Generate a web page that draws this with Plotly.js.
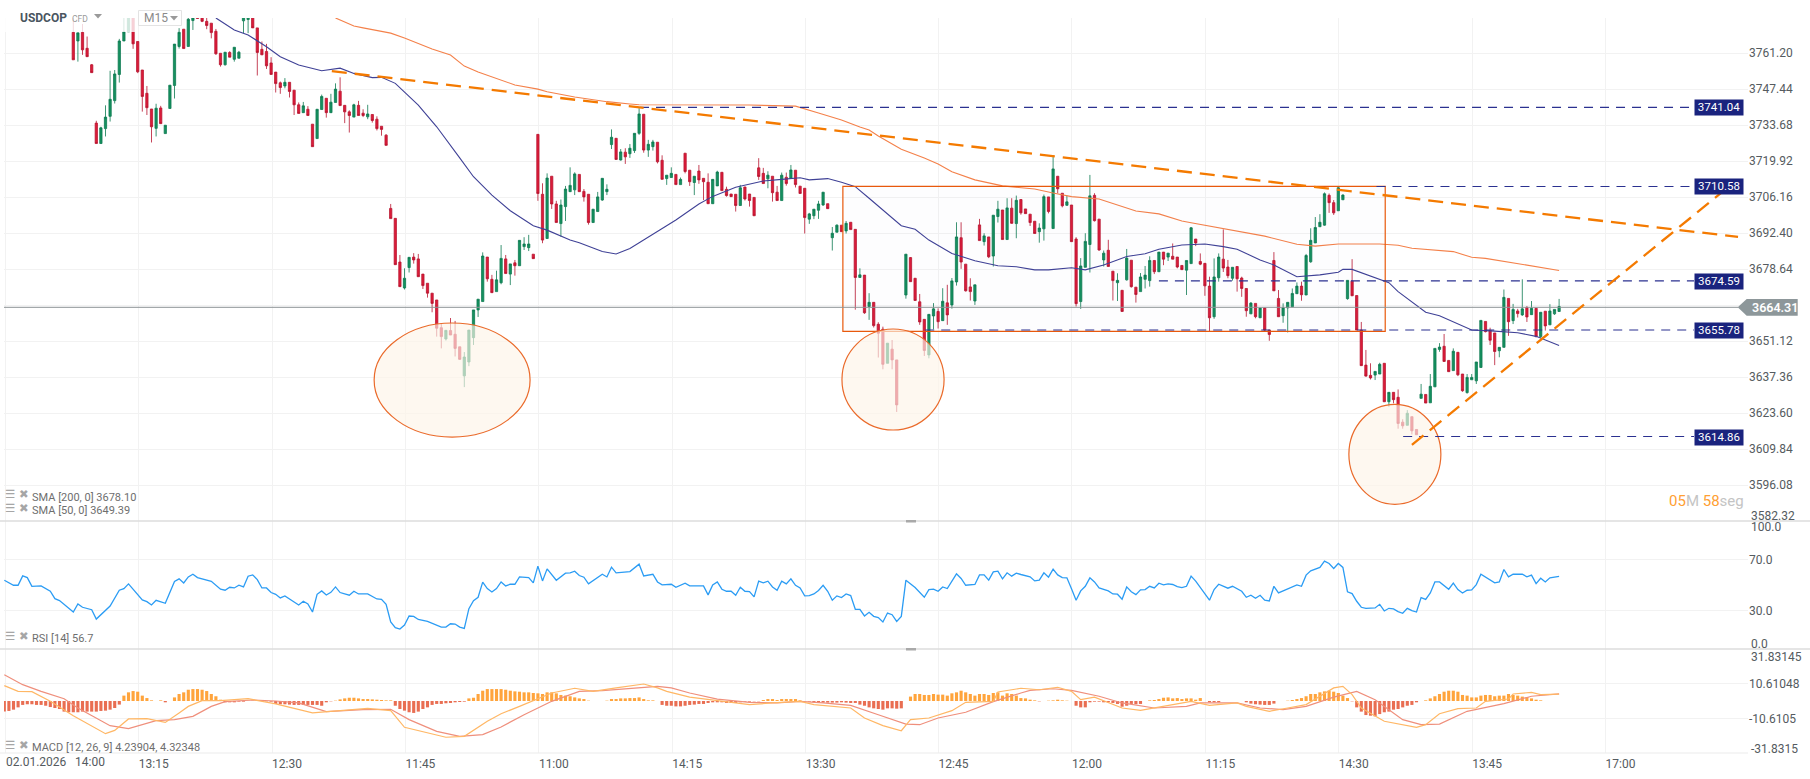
<!DOCTYPE html>
<html><head><meta charset="utf-8">
<script src="https://cdn.plot.ly/plotly-3.0.1.min.js"></script>
<style>html,body{margin:0;padding:0;background:#fff}#c{width:1810px;height:779px}</style>
</head><body><div id="c"></div>
<script>
const firstBar = 15;
const open = [
3769.1,3765.8,3769.1,3763.0,3756.7,3734.4,3726.6,3732.3,3737.0,3743.0,
3753.0,3765.8,3769.3,3777,3765.6,3754.7,3745.8,3739.8,3732.4,3740.2,
3730.4,3740.0,3748.8,3763.7,3770.3,3763.7,3773.6,3775,3776,3773.3,
3772.6,3769.5,3761.1,3756.7,3761.4,3758.8,3759.2,3773.5,3774,3776,
3770.8,3762.6,3761.8,3757.4,3753.9,3749.8,3748.6,3750.0,3747.0,3741.4,
3738.4,3739.7,3734.0,3728.5,3739.6,3743.9,3738.4,3742.3,3746.6,3741.2,
3738.7,3736.7,3741.2,3738.2,3736.8,3737.7,3735.9,3733.2,3729.8,3701.8,
3698.0,3681.3,3671.4,3679.2,3683.2,3682.5,3676.7,3673.2,3669.4,3666.8,
3656.2,3651.9,3655.1,3653.7,3648.9,3637.8,3643.1,3652.4,3663.0,3666.2,
3683.2,3674.7,3670.0,3673.4,3682.5,3676.7,3681.0,3679.9,3687.2,3686.8,
3684.3,3730.1,3707.2,3690.3,3714.1,3703.5,3696.0,3702.5,3708.2,3708.9,
3714.8,3708.3,3707.2,3696.4,3700.6,3705.0,3708.2,3726.2,3728.6,3720.3,
3723.3,3722.7,3723.9,3730.5,3737.8,3724.1,3725.4,3727.1,3720.2,3713.2,
3713.6,3714.8,3710.9,3722.9,3716.4,3711.7,3716.1,3713.3,3711.8,3703.6,
3710.4,3715.6,3709.1,3707.3,3707.2,3702.9,3710.0,3707.3,3706.0,3717.3,
3715.2,3713.1,3714.1,3708.0,3704.8,3713.7,3713.3,3716.4,3710.3,3709.5,
3697.7,3699.0,3701.1,3703.1,3703.6,3690.6,3692.7,3695.4,3693.2,3696.5,
3693.8,3675.4,3676.3,3664.3,3665.9,3657.5,3655.6,3642.6,3648.0,3643.9,
null,3668.7,3683.0,3675.1,3666.1,3659.4,3645.8,3660.7,3662.4,3658.9,
3665.7,3664.9,3673.7,3690.6,3680.5,3671.8,3666.4,3695.5,3689.1,3690.9,
3683.6,3698.7,3701.2,3689.9,3701.9,3696.0,3705.2,3701.6,3699.6,3696.9,
3692.9,3694.0,3706.2,3694.1,3714.1,3707.6,3703.0,3703.1,3690.1,3666.2,
3679.3,3688.0,3706.8,3697.7,3682.1,3685.8,3677.8,3673.4,3670.5,3674.5,
3682.0,3671.7,3670.0,3674.7,3674.2,3681.9,3677.6,3685.1,3683.2,3683.5,
3683.2,3680.0,3678.2,3680.7,3690.1,3681.5,3680.8,3672.1,3660.4,3675.3,
3682.4,3679.4,3675.1,3679.6,3675.2,3671.2,3661.5,3665.5,3660.0,3663.7,
3655.3,3681.9,3667.4,3660.8,3663.8,3664.2,3669.2,3672.1,3668.7,3681.4,
3688.6,3694.8,3695.4,3706.8,3704.0,3700.9,3705.1,3667.3,3674.0,3668.5,
3655.3,3641.9,3638.0,3638.1,3638.5,3642.6,3627.9,3631.5,3629.6,3620.1,
3618.9,3622.2,3617.3,3629.2,3630.7,3627.5,3633.6,3647.9,3649.1,3643.7,
3639.8,3646.8,3638.5,3631.4,3636.3,3635.9,3641.0,3658.6,3655.2,3654.2,
3647.4,3648.7,3667.4,3658.9,3662.6,3661.1,3663.9,3661.2,3663.6,3652.8,
3662.5,3657.3,3661.5,3662.4];
const high = [
3774.5,3768.9,3772.3,3767.5,3757.0,3735.3,3733.0,3741.2,3754.4,3754.7,
3766.6,3776,3778,3778,3765.6,3754.7,3748.6,3739.8,3741.8,3741.0,
3733.6,3748.9,3764.6,3770.7,3770.3,3775.0,3776,3775.5,3776,3776,
3772.6,3770.4,3761.1,3761.5,3761.9,3763.4,3762.0,3777,3778,3777,
3770.8,3765.6,3764.7,3759.6,3753.9,3750.3,3751.6,3750.0,3747.0,3742.3,
3742.5,3740.9,3734.0,3739.7,3745.3,3743.9,3745.6,3749.6,3751.9,3741.2,
3739.3,3741.8,3742.9,3739.7,3741.4,3737.7,3737.0,3733.2,3730.2,3703.5,
3698.0,3684.0,3678.9,3683.1,3684.7,3684.4,3676.7,3673.2,3669.4,3666.8,
3657.9,3655.2,3659.9,3658.8,3648.9,3646.9,3655.3,3663.0,3667.1,3685.0,
3683.2,3676.4,3678.0,3687.8,3684.0,3680.6,3682.1,3689.6,3690.8,3691.7,
3684.3,3730.1,3711.4,3715.2,3714.1,3704.7,3705.2,3710.4,3717.5,3715.6,
3714.8,3709.2,3707.2,3701.5,3708.1,3713.3,3711.0,3732.0,3728.6,3724.5,
3724.8,3726.4,3730.5,3740.1,3737.8,3728.0,3728.0,3727.1,3722.1,3714.5,
3717.5,3714.8,3713.6,3722.9,3716.4,3714.1,3718.4,3713.3,3715.2,3712.9,
3716.2,3715.6,3710.1,3707.3,3707.2,3710.8,3710.0,3707.3,3706.0,3721.0,
3717.3,3716.0,3714.1,3710.4,3715.5,3715.5,3718.4,3716.4,3710.3,3709.5,
3700.1,3701.5,3704.7,3708.0,3703.6,3694.7,3695.7,3695.4,3697.0,3696.5,
3693.8,3678.9,3676.3,3669.4,3665.9,3658.3,3656.6,3650.3,3651.5,3643.9,
null,3684.3,3683.2,3675.1,3669.1,3659.4,3661.3,3665.6,3663.6,3671.3,
3672.6,3675.2,3696.5,3696.5,3680.5,3675.1,3672.6,3697.8,3692.3,3690.9,
3699.2,3704.7,3701.2,3705.7,3705.7,3706.7,3705.2,3701.6,3699.6,3696.9,
3696.1,3707.1,3706.2,3722.0,3714.1,3707.6,3706.7,3703.1,3690.8,3682.8,
3692.3,3714.6,3707.6,3697.7,3685.7,3689.8,3677.8,3677.0,3670.5,3686.3,
3682.0,3671.7,3677.1,3679.8,3683.5,3681.9,3685.1,3685.1,3684.7,3688.4,
3683.2,3680.0,3681.9,3694.7,3690.1,3684.6,3680.8,3675.7,3682.7,3684.6,
3693.8,3682.1,3679.3,3679.6,3675.7,3671.2,3666.0,3665.5,3663.7,3663.7,
3655.3,3685.1,3670.6,3665.5,3665.9,3671.2,3673.5,3673.8,3684.4,3694.2,
3698.5,3699.6,3707.9,3707.5,3705.0,3710.3,3707.2,3674.3,3682.4,3668.5,
3658.4,3647.7,3642.6,3639.5,3642.8,3642.6,3631.5,3631.5,3632.6,3621.2,
3624.7,3622.2,3617.3,3634.7,3630.7,3638.5,3648.3,3650.3,3653.8,3643.7,
3648.3,3646.8,3638.5,3638.5,3638.5,3643.1,3659.0,3658.6,3656.2,3654.2,
3648.7,3670.8,3667.4,3665.3,3663.4,3674.7,3664.5,3666.4,3663.6,3662.1,
3662.5,3665.2,3663.2,3667.2];
const low = [
3758.6,3757.9,3760.5,3759.8,3753.7,3726.6,3726.6,3729.3,3735.0,3741.9,
3749.9,3765.8,3769.3,3762.8,3753.5,3738.8,3737.5,3727.0,3729.3,3734.2,
3730.4,3740.0,3743.8,3762.9,3762.9,3763.7,3770.0,3774.4,3773.0,3770.3,
3766.8,3760.5,3756.0,3756.4,3759.6,3757.9,3759.2,3768.8,3768.8,3770.8,
3752.6,3760.5,3755.1,3753.0,3746.1,3745.6,3747.7,3744.2,3737.5,3738.1,
3738.4,3737.3,3725.4,3728.5,3739.6,3736.5,3738.4,3742.3,3741.1,3734.4,
3730.8,3736.7,3737.3,3736.7,3735.9,3734.6,3731.6,3729.6,3725.9,3697.9,
3680.3,3671.9,3670.8,3677.3,3680.7,3675.7,3671.0,3667.7,3662.1,3652.8,
3648.3,3651.3,3653.4,3645.2,3643.9,3633.5,3641.5,3649.6,3660.3,3666.2,
3673.8,3669.6,3670.0,3672.8,3676.9,3672.5,3676.1,3679.9,3685.9,3685.5,
3682.6,3704.7,3688.5,3690.3,3701.6,3696.4,3691.0,3697.0,3708.2,3706.9,
3708.2,3704.4,3695.6,3696.4,3700.6,3704.7,3706.9,3724.5,3720.5,3720.1,
3718.8,3721.1,3723.0,3729.9,3723.1,3721.5,3723.9,3719.0,3712.9,3710.8,
3713.6,3710.9,3710.9,3715.2,3710.4,3706.9,3711.2,3705.0,3703.6,3703.6,
3710.4,3708.6,3706.3,3706.3,3700.6,3702.9,3704.8,3702.5,3699.0,3712.7,
3711.3,3709.5,3704.4,3704.8,3704.8,3710.5,3713.3,3709.8,3707.5,3692.2,
3695.9,3697.7,3697.8,3702.8,3701.7,3685.7,3692.7,3692.9,3692.2,3693.7,
3663.1,3675.4,3661.5,3659.2,3656.3,3644.8,3640.3,3642.6,3640.3,3624.0,
null,3667.3,3673.8,3666.6,3657.3,3645.4,3644.5,3655.6,3655.9,3658.9,
3657.3,3663.5,3672.3,3678.7,3670.0,3666.6,3664.9,3689.5,3687.6,3682.8,
3679.6,3696.4,3689.9,3689.9,3695.9,3690.4,3699.4,3699.8,3695.1,3692.2,
3688.7,3689.5,3699.9,3694.1,3707.6,3702.2,3702.8,3689.1,3664.3,3663.4,
3679.3,3677.3,3696.8,3685.6,3679.6,3679.6,3666.6,3666.4,3662.4,3674.2,
3671.5,3665.8,3670.0,3671.2,3671.9,3676.7,3677.6,3680.1,3681.7,3682.4,
3678.9,3678.4,3668.7,3680.7,3687.4,3680.1,3668.4,3654.7,3659.6,3673.8,
3677.5,3675.1,3674.2,3670.0,3668.0,3660.4,3661.5,3659.8,3660.0,3654.7,
3651.2,3670.3,3660.4,3658.1,3654.4,3664.2,3669.2,3666.5,3668.7,3681.0,
3688.6,3694.8,3695.2,3700.1,3699.3,3700.9,3705.1,3666.9,3668.4,3655.3,
3641.7,3637.5,3636.4,3636.2,3638.5,3627.9,3626.0,3627.3,3617.6,3617.6,
3618.9,3615.4,3615.3,3629.2,3627.4,3627.5,3633.6,3647.0,3643.3,3639.4,
3639.8,3637.7,3631.7,3631.0,3636.3,3634.7,3641.0,3654.4,3649.6,3641.9,
3644.9,3648.7,3653.1,3657.6,3660.1,3660.7,3658.4,3661.2,3652.5,3652.3,
3655.1,3657.3,3661.1,3662.4];
const close = [
3758.6,3768.9,3762.4,3759.8,3753.7,3726.6,3732.6,3736.7,3743.5,3753.2,
3765.8,3769.3,3776,3764.7,3754.0,3744.6,3740.3,3733.0,3740.1,3734.2,
3733.6,3748.9,3764.6,3769.1,3762.9,3774.1,3775,3774.4,3773.3,3771.7,
3769.0,3760.9,3756.7,3761.5,3759.6,3763.4,3761.5,3776,3776,3770.8,
3761.4,3760.5,3756.3,3753.0,3749.5,3748.0,3750.0,3746.5,3741.4,3738.1,
3741.0,3737.3,3725.4,3739.7,3744.6,3738.4,3742.4,3747.4,3741.1,3738.7,
3737.3,3741.4,3737.3,3737.3,3737.9,3735.4,3732.3,3732.0,3725.9,3697.9,
3680.3,3671.9,3675.1,3683.1,3682.1,3675.7,3672.3,3669.4,3665.5,3656.0,
3652.8,3655.2,3653.4,3648.3,3644.1,3645.0,3655.3,3663.0,3667.1,3683.6,
3674.9,3669.6,3674.5,3682.7,3676.9,3680.6,3679.9,3689.6,3688.2,3688.2,
3682.6,3707.5,3689.7,3713.4,3703.5,3696.4,3703.1,3709.2,3710.6,3715.0,
3708.2,3706.2,3696.4,3701.5,3706.2,3713.3,3709.1,3729.0,3720.5,3723.4,
3721.5,3724.8,3730.5,3737.9,3724.1,3726.3,3727.2,3719.6,3712.9,3714.5,
3715.2,3710.9,3712.9,3715.9,3712.0,3714.1,3712.7,3712.0,3703.6,3712.9,
3715.7,3708.6,3706.7,3706.3,3702.9,3709.7,3705.4,3704.8,3699.0,3714.0,
3711.3,3714.5,3707.8,3704.8,3714.5,3711.3,3716.5,3710.9,3707.5,3698.3,
3699.7,3701.5,3703.5,3708.0,3701.7,3692.3,3695.4,3692.9,3696.1,3693.7,
3675.4,3676.4,3661.9,3665.9,3657.0,3654.1,3642.2,3650.3,3643.9,3626.7,
null,3684.3,3673.8,3666.6,3658.4,3647.5,3661.3,3663.4,3658.5,3666.3,
3661.1,3674.1,3690.9,3681.3,3670.3,3670.0,3672.6,3689.5,3691.3,3683.3,
3699.2,3701.5,3689.9,3702.0,3696.1,3704.9,3700.1,3699.8,3696.4,3692.2,
3694.3,3706.3,3700.6,3716.9,3709.3,3702.8,3704.3,3689.1,3665.4,3679.8,
3689.2,3706.6,3697.1,3685.9,3684.7,3679.6,3674.2,3674.3,3662.4,3682.8,
3671.9,3668.9,3675.6,3676.3,3681.9,3677.6,3685.1,3682.4,3684.7,3682.4,
3679.4,3678.4,3681.9,3694.4,3688.6,3680.5,3672.2,3660.0,3675.6,3683.2,
3679.0,3676.1,3679.3,3674.9,3671.2,3662.7,3665.6,3660.4,3663.7,3655.3,
3653.6,3670.3,3660.4,3663.8,3665.9,3669.3,3672.1,3668.8,3683.8,3689.6,
3694.5,3696.5,3707.4,3704.0,3700.1,3709.7,3706.9,3674.3,3668.4,3655.3,
3641.7,3637.7,3637.0,3639.5,3642.2,3627.9,3631.5,3628.7,3619.6,3618.7,
3623.5,3616.8,3615.3,3630.8,3627.4,3633.8,3648.3,3648.8,3643.3,3639.4,
3647.2,3638.2,3632.1,3637.2,3637.2,3643.1,3659.0,3654.7,3651.4,3647.1,
3648.7,3667.8,3658.5,3663.2,3661.6,3663.4,3660.3,3663.6,3652.8,3662.1,
3656.9,3662.6,3663.2,3664.31];

const sma200Bars = [72,76,78,84,87,93,97,100,103,108,111,116,118,124,131,136,138,162,172,177,182,186,188,190,195,200,203,206,211,217,224,228,232,238,243,246,251,254,256,258,264,269,274,281,285,290,299,303,306,315,319,322,329,334,338];
const sma200 = [3774.6,3771.5,3770.8,3768.8,3766.9,3762.7,3760.4,3756.2,3753.9,3750.9,3749.0,3747.4,3746.4,3744.4,3742.6,3741.7,3741.4,3741.3,3740.9,3738.3,3735.6,3732.9,3731.8,3729.5,3724.4,3721.1,3718.8,3715.8,3712.7,3710.4,3709.2,3707.7,3706.3,3705.4,3702.7,3700.8,3699.7,3698.0,3697.0,3696.3,3694.3,3692.9,3691.2,3688.1,3687.4,3688.2,3688.2,3687.7,3686.6,3685.3,3683.1,3682.7,3680.7,3679.5,3678.1];
const sma50Bars = [46,50,53,55,57,60,64,69,73,76,80,82,85,90,94,99,102,106,110,115,118,123,125,130,133,136,142,146,151,154,159,165,169,173,175,179,182,185,188,193,195,198,201,206,211,216,220,224,227,232,235,239,244,248,251,256,261,265,268,273,276,281,286,290,291,293,297,301,303,309,312,319,324,329,333,338];
const sma50 = [3774.6,3770.0,3768.1,3765.9,3763.6,3759.8,3756.6,3754.4,3755.4,3753.4,3751.8,3751.9,3749.6,3741.3,3733.0,3721.1,3713.9,3706.9,3700.9,3695.2,3693.5,3689.7,3688.7,3685.3,3684.4,3686.5,3692.9,3697.4,3703.5,3706.4,3709.9,3712.3,3712.9,3713.5,3712.7,3713.2,3711.8,3710.1,3705.7,3698.4,3695.2,3693.8,3689.7,3684.6,3681.8,3679.9,3679.5,3678.3,3678.3,3679.1,3678.3,3680.2,3683.4,3684.5,3686.2,3687.8,3688.2,3687.2,3686.2,3682.1,3680.2,3675.7,3676.4,3677.4,3678.5,3678.5,3676.0,3673.4,3670.0,3662.1,3660.8,3655.3,3654.9,3654.3,3652.9,3649.39];

const rsiBars = [0,2,3,4,5,6,8,10,11,12,15,16,17,19,20,23,25,26,27,30,31,32,33,35,37,38,39,40,41,42,45,47,48,49,50,51,52,53,54,55,56,57,58,59,60,61,64,65,66,67,68,69,70,71,72,73,75,76,77,79,81,82,83,84,85,86,87,88,89,90,92,95,96,97,98,99,100,101,102,103,104,105,106,107,108,109,110,111,112,114,115,116,117,118,120,122,123,124,125,126,127,130,131,132,133,136,138,139,141,142,143,145,146,148,149,
151,152,153,154,155,156,157,158,159,160,161,162,163,164,165,166,167,168,169,170,171,172,173,174,175,176,177,178,179,180,181,182,183,184,185,186,187,188,189,190,191,192,193,194,195,196,198,200,201,202,203,204,205,207,208,209,211,212,213,214,215,216,217,218,219,220,221,223,224,225,226,227,228,229,230,231,232,233,234,235,236,237,238,239,240,241,242,243,244,245,246,247,248,249,250,251,252,253,254,255,256,257,258,259,262,263,264,266,267,269,270,271,272,273,274,275,276,277,279,281,282,283,284,286,287,288,289,290,291,292,293,294,295,296,298,299,
300,301,302,303,304,305,306,307,308,309,310,311,312,314,315,316,317,318,319,320,321,324,325,326,327,328,330,331,332,333,334,335,336,338];
const rsi = [53.7,49.8,49.8,57.1,55.8,49.0,49.3,45.1,39.3,37.8,28.9,35.2,32.6,30.7,23.4,33.6,45.9,47.2,50.9,38.3,37.0,34.4,38.0,35.7,52.7,54.8,51.6,56.3,58.4,55.8,52.9,46.7,45.9,48.2,47.7,49.8,48.5,56.9,57.9,54.2,47.7,47.7,44.1,42.7,39.9,41.4,34.4,37.3,35.2,28.9,42.7,45.4,42.2,44.3,48.5,44.1,42.0,45.1,43.0,43.0,39.1,38.8,34.9,21.1,16.6,15.6,18.7,25.8,25.5,23.1,21.6,17.1,17.1,19.7,19.5,17.1,16.1,31.5,37.8,40.4,52.2,47.2,44.6,47.2,52.4,49.3,50.6,50.6,56.3,55.8,51.6,64.7,53.2,62.6,53.7,59.2,59.5,60.8,57.4,56.1,50.9,58.4,56.3,63.9,59.5,60.5,66.3,57.1,58.4,52.4,50.1,50.6,48.2,51.4,49.3,
49.3,49.3,42.3,50.1,52.4,46.7,45.1,45.1,42.0,48.3,45.1,44.9,40.7,53.0,51.7,53.0,48.5,45.9,53.0,50.9,54.8,49.8,47.7,41.5,41.7,43.0,45.7,49.8,45.1,38.1,41.5,40.2,43.0,41.7,31.0,31.0,25.8,28.7,25.5,24.5,21.1,28.1,26.8,21.6,25.5,53.8,48.0,40.4,46.4,46.7,45.1,48.5,47.2,58.7,55.1,49.8,50.4,57.9,57.9,53.8,60.3,60.8,54.8,59.5,56.9,59.2,58.2,56.4,53.2,53.8,59.5,56.1,62.4,57.9,55.8,55.6,47.0,38.1,45.4,49.0,55.6,52.4,47.7,46.7,45.4,43.0,42.8,38.9,48.5,44.7,42.5,46.2,46.4,49.0,47.7,51.4,50.1,50.9,50.4,48.8,47.9,49.0,56.9,53.0,38.1,46.4,50.6,47.5,49.0,45.1,40.4,42.0,39.6,42.0,38.1,37.5,49.0,43.8,46.7,50.1,49.0,57.7,61.1,63.7,68.7,66.8,62.9,66.8,63.7,44.7,43.3,37.3,32.6,31.8,32.1,34.9,
29.7,31.8,31.3,29.2,27.9,31.8,30.0,28.9,40.2,38.8,43.8,52.4,52.4,46.7,51.4,46.4,43.8,45.9,46.2,50.3,58.4,51.7,52.4,62.1,56.4,58.4,58.4,56.4,57.7,51.1,55.3,52.4,55.6,56.7];

const signalBars = [0,4,8,13,16,20,23,27,30,33,37,41,45,48,54,59,64,70,78,84,88,94,99,104,108,113,119,125,130,135,142,145,149,155,162,168,173,178,184,190,196,199,203,209,215,221,223,228,232,238,243,250,257,260,268,273,278,283,289,294,298,304,308,312,318,326,332,338];
const signal = [16.1,10.0,5.9,1.4,-4.3,-10.4,-15.1,-16.9,-14.5,-12.0,-11.4,-9.4,-3.3,-0.4,0.6,0,-1.2,-6.5,-5.3,-5.1,-11.4,-18.6,-21.6,-20.6,-15.9,-8.4,-0.2,5.9,6.3,7.5,9.0,8.0,4.9,1.2,-0.8,-1.2,-0.2,-1.2,-2.7,-8.4,-14.1,-14.5,-10.4,-6.9,-0.4,4.9,6.5,7.5,6.5,2.9,-1.2,-4.3,-3.3,-1.2,-1.2,-4.3,-5.3,-3.3,2.4,5.9,0.8,-11.4,-14.5,-14.1,-6.3,-1.6,2.9,4.32];
const macdBars = [0,3,6,10,15,18,22,24,27,31,35,38,40,43,47,53,59,67,73,79,84,87,96,100,105,108,112,119,124,128,133,139,142,144,149,155,162,167,173,176,184,187,191,195,197,201,206,209,215,216,221,225,229,232,234,237,243,247,250,258,262,268,270,275,279,283,289,291,293,295,300,307,309,312,316,320,322,327,328,332,334,338];
const macd = [9.4,5.9,5.7,-0.2,-9.0,-13.9,-20.0,-18.0,-11.0,-10.8,-13.1,-7.3,-3.3,0.2,0.2,1.4,-1.8,-7.3,-5.7,-4.5,-5.9,-16.1,-22.2,-21.6,-12.4,-7.8,-3.3,4.9,7.8,5.9,8.0,10.4,8.0,5.9,2.4,0.2,-2.2,-1.2,-0.2,-2.2,-4.3,-10.4,-15.1,-18.2,-11.4,-10.4,-5.9,-0.8,-0.2,5.5,7.8,6.9,8.4,5.9,0.8,2.4,-4.3,-5.7,-4.3,-0.2,-2.7,-1.2,-3.3,-6.3,-4.3,-2.2,8.0,9.0,3.9,-4.3,-12.4,-16.1,-14.5,-7.8,-4.7,-4.3,-0.2,1.2,4.3,5.3,3.9,4.24];
const hist = [
-6.5,-6.1,-5.3,-3.9,-2.4,-2.0,-2.0,-2.4,-2.4,-2.9,
-3.7,-4.3,-4.9,-6.5,-6.9,-6.9,-6.9,-6.5,-6.5,-6.5,
-6.5,-6.1,-5.9,-5.3,-4.3,-2.2,3.3,5.3,6.1,5.7,
3.3,1.8,0.4,0,0.4,-0.8,0,2.2,4.3,5.3,
6.9,7.3,7.3,6.9,6.1,4.3,2.9,0.8,-0.8,-0.8,
-0.8,-0.4,-0.4,0.2,0.2,0.2,0.2,-0.2,-0.4,-1.8,
-2.0,-2.0,-2.2,-2.4,-2.4,-2.4,-2.4,-2.4,-2.4,-2.9,
-0.8,-0.2,0.2,1.0,1.6,2.0,2.0,1.6,1.2,1.2,
1.0,0.8,0.6,0.4,0.4,-2.9,-4.9,-5.9,-6.9,-7.3,
-6.5,-4.9,-3.9,-2.4,-1.8,-1.8,-1.4,-1.2,-0.8,-0.6,
-0.4,1.6,2.0,4.3,6.3,7.3,7.3,7.3,7.3,6.9,
6.3,5.9,5.7,5.3,5.3,4.9,4.7,4.3,5.3,5.3,
4.7,3.7,3.3,2.9,2.2,1.6,1.2,0.2,0,0,
0,0.2,1.2,1.2,1.6,1.6,1.8,1.8,2.2,1.2,
0.4,0.4,0,-2.4,-2.9,-2.9,-3.3,-3.3,-2.9,-2.4,
-2.2,-1.8,-1.8,-1.2,-0.8,-0.8,-0.8,-1.2,-1.2,-1.2,
-0.8,-0.4,-0.4,-0.2,-0.2,0.6,1.2,1.2,0.6,1.2,
1.2,1.2,1.2,0.4,0,-0.4,-0.8,-0.8,-1.0,-1.0,
-1.0,-1.0,-0.8,-1.0,-1.2,-1.2,-2.2,-2.9,-3.9,-4.5,
-4.9,-5.3,-4.5,-4.5,-4.7,-4.5,0,2.7,4.3,4.3,
3.7,3.7,4.3,3.9,3.9,3.3,4.7,5.3,6.3,5.3,
4.3,3.3,4.3,4.3,3.7,4.9,5.3,3.3,4.7,4.3,
3.3,1.8,1.6,0.8,0.4,-0.2,0,0.2,0.4,0.8,
0.4,0.2,0,-2.9,-3.9,-3.9,-0.8,-0.4,-0.4,-0.8,
-0.8,-1.2,-1.8,-3.5,-2.9,-1.8,-2.0,-1.8,0,0.4,
0.6,1.2,2.0,2.2,1.6,1.8,1.2,1.6,1.6,0.8,
1.8,0,-0.8,-0.8,-0.8,0,0,0,0,0,
-0.8,-1.6,-2.0,-2.2,-2.4,-2.4,-1.6,0,0,0.2,
0.6,1.2,1.8,2.9,4.3,4.3,5.3,5.9,6.3,5.7,
4.9,3.3,1.8,-0.2,-3.9,-6.5,-8.6,-9.0,-9.4,-8.0,
-6.9,-6.5,-5.3,-4.9,-3.9,-2.9,-2.4,-0.8,0,0.4,
1.6,2.9,4.3,5.7,6.3,6.3,5.7,3.7,3.3,2.2,
2.2,3.3,3.7,3.7,2.9,3.3,3.3,4.3,3.7,3.3,
2.7,2.4,1.6,0.8,0.4,0,0,0,0];

const priceTicks = [3582.32,3596.08,3609.84,3623.60,3637.36,3651.12,3664.88,3678.64,3692.40,3706.16,3719.92,3733.68,3747.44,3761.20];
const priceTickText = ['', '3596.08','3609.84','3623.60','3637.36','3651.12','','3678.64','3692.40','3706.16','3719.92','3733.68','3747.44','3761.20'];
const timeTickBars = [0.26,29.24,58.2,87.2,116.2,145.2,174.2,203.1,232.1,261.1,290.1,319.1,348.1];
const timeLabels = ['','13:15','12:30','11:45','11:00','14:15','13:30','12:45','12:00','11:15','14:30','13:45','17:00'];
const levels = [3741.04,3710.58,3674.59,3655.78,3614.86];
const levelLineValues = [3740.4,3710.2,3674.1,3655.3,3614.6];
const levelStartBars = [138.2,298.3,251,200.2,304.1];
const lastPrice = 3664.31;
const lastPriceLine = 3664.0;

if (open.length!==324||high.length!==324||low.length!==324||close.length!==324) throw new Error('ohlc '+[open.length,high.length,low.length,close.length]);
if (rsi.length!==rsiBars.length) throw new Error('rsi '+rsi.length+' '+rsiBars.length);
if (sma200.length!==sma200Bars.length||sma50.length!==sma50Bars.length) throw new Error('sma');
if (signal.length!==signalBars.length||macd.length!==macdBars.length) throw new Error('macd '+signal.length+' '+signalBars.length+' '+macd.length+' '+macdBars.length);
if (hist.length!==339) throw new Error('hist '+hist.length);

const bars = open.map((_,k)=>k+firstBar);
const W=1810, H=779, mL=4, mR=62, plotBottom=753;
const px = x => (x-mL)/(W-mL-mR);
const py = y => 1-y/plotBottom;
const barAt = x => (x-4.3)/4.6;

const traces = [
 {type:'candlestick',x:bars,open,high,low,close,xaxis:'x',yaxis:'y',whiskerwidth:0,hoverinfo:'skip',showlegend:false,
  increasing:{line:{color:'#0c7a50',width:0.8},fillcolor:'#16915f'},
  decreasing:{line:{color:'#b8142f',width:0.8},fillcolor:'#dc1c3a'}},
 {type:'scatter',mode:'lines',x:sma200Bars,y:sma200,xaxis:'x',yaxis:'y',line:{color:'#f4814a',width:1.1},hoverinfo:'skip',showlegend:false},
 {type:'scatter',mode:'lines',x:sma50Bars,y:sma50,xaxis:'x',yaxis:'y',line:{color:'#3f4196',width:1.1},hoverinfo:'skip',showlegend:false},
 {type:'scatter',mode:'lines',x:rsiBars,y:rsi,xaxis:'x',yaxis:'y2',line:{color:'#2b9cf4',width:1.3},hoverinfo:'skip',showlegend:false},
 {type:'bar',x:hist.map((_,k)=>k),y:hist,xaxis:'x',yaxis:'y3',width:0.68,marker:{color:hist.map(v=>v>=0?'#ffa43c':'#e96e52'),line:{width:0}},hoverinfo:'skip',showlegend:false},
 {type:'scatter',mode:'lines',x:signalBars,y:signal,xaxis:'x',yaxis:'y3',line:{color:'#ef8f7c',width:1.2},hoverinfo:'skip',showlegend:false},
 {type:'scatter',mode:'lines',x:macdBars,y:macd,xaxis:'x',yaxis:'y3',line:{color:'#ffb765',width:1.2},hoverinfo:'skip',showlegend:false}
];

const paperLine=(x0,y0,x1,y1,color,width)=>({type:'line',xref:'paper',yref:'paper',x0:px(x0),y0:py(y0),x1:px(x1),y1:py(y1),line:{color,width}});
const paperRect=(x0,y0,x1,y1,fill,lineColor,opacity)=>({type:'rect',xref:'paper',yref:'paper',x0:px(x0),y0:py(y0),x1:px(x1),y1:py(y1),fillcolor:fill,opacity:opacity===undefined?1:opacity,line:{color:lineColor||'rgba(0,0,0,0)',width:lineColor?1:0}});
const tri=(x,y,c)=>({type:'path',xref:'paper',yref:'paper',fillcolor:c,line:{width:0},path:`M${px(x-4)},${py(y-2)} L${px(x+4)},${py(y-2)} L${px(x)},${py(y+2.5)} Z`});
const ellipse=(b0,b1,p0,p1)=>({type:'circle',xref:'x',yref:'y',x0:b0,x1:b1,y0:p0,y1:p1,fillcolor:'rgba(254,244,232,0.66)',line:{color:'#ea6a2a',width:1.2}});

const shapes = [
 {type:'rect',xref:'x',yref:'y',x0:182.3,x1:300.2,y0:3654.8,y1:3710.25,fillcolor:'rgba(90,90,190,0.012)',line:{color:'#e8590c',width:1.2}},
 ellipse(80.4,114.3,3614.4,3658.0),
 ellipse(182.1,204.3,3617.1,3655.7),
 ellipse(292.3,312.3,3588.7,3626.9),
 {type:'line',xref:'x',yref:'y',x0:barAt(0),x1:barAt(1738),y0:lastPriceLine,y1:lastPriceLine,line:{color:'#8d9395',width:1}},
 ...levels.map((v,k)=>({type:'line',xref:'x',yref:'y',x0:levelStartBars[k],x1:barAt(1694),y0:levelLineValues[k],y1:levelLineValues[k],line:{color:'#2b3190',width:1.1,dash:'9px,7px'}})),
 {type:'line',xref:'x',yref:'y',x0:71.2,x1:376.9,y0:3754.3,y1:3690.9,line:{color:'#f47a00',width:2.3,dash:'15px,8px'}},
 {type:'line',xref:'x',yref:'y',x0:306.0,x1:376.7,y0:3611.4,y1:3712.7,line:{color:'#f47a00',width:2.3,dash:'15px,8px'}},
 paperRect(0,0,135,32,'#ffffff',null,0.8),
 paperRect(138.5,10.5,181.5,25.5,'#ffffff','#e3e3e3'),
 tri(98,16,'#9a9a9a'), tri(174,18,'#9a9a9a'),
 paperLine(0,521,1810,521,'#dcdcdc',1.5),
 paperLine(0,649,1810,649,'#dcdcdc',1.5),
 paperLine(0,753,1748,753,'#ececec',1.2),
 paperRect(906,520,916,522.5,'#a9a9a9'),
 paperRect(906,648,916,650.5,'#a9a9a9'),
 {type:'path',xref:'paper',yref:'paper',fillcolor:'#8d979a',line:{width:0},
  path:`M${px(1737.7)},${py(307.3)} L${px(1746.7)},${py(299)} L${px(1797.7)},${py(299)} L${px(1797.7)},${py(315.7)} L${px(1746.7)},${py(315.7)} Z`}
];

const note=(text,x,y,size,color,extra)=>Object.assign({xref:'paper',yref:'paper',x:px(x),y:py(y),text,showarrow:false,xanchor:'left',yanchor:'middle',borderpad:0,font:{family:'Roboto',size,color}},extra||{});
const tagWidth=48, tagHeight=14.5;
const tagYs=[107.3,186.5,281.3,330.3,437];
const iconFont={font:{family:'DejaVu Sans',size:11.5,color:'#a6a6a6'}};
const annotations = [
 note('<b>USDCOP</b>',19,18,12,'#4a5560'),
 note('CFD',71,19,8.5,'#9a9a9a'),
 note('M15',143,18,12,'#8a8a8a'),
 note('SMA [200, 0] 3678.10',31,497,11,'#6e6e6e'),
 note('SMA [50, 0] 3649.39',31,511,11,'#6e6e6e'),
 note('RSI [14] 56.7',31,638.5,11,'#6e6e6e'),
 note('MACD [12, 26, 9] 4.23904, 4.32348',31,747.5,11,'#6e6e6e'),
 note('☰ ✖',4,494,11,'#a6a6a6',iconFont),
 note('☰ ✖',4,508,11,'#a6a6a6',iconFont),
 note('☰ ✖',4,636,11,'#a6a6a6',iconFont),
 note('☰ ✖',4,745,11,'#a6a6a6',iconFont),
 note('<span style="color:#ffa033">05</span><span style="color:#c4c4c4">M</span> <span style="color:#ffa033">58</span><span style="color:#c4c4c4">seg</span>',1668,501,15,'#c4c4c4'),
 note('02.01.2026',5,762,12,'#555b60'),
 note('14:00',74,762,12,'#555b60'),
 note('3582.32',1750,516,12,'#555b60'),
 note('100.0',1750,527,12,'#555b60'),
 note('0.0',1750,643.5,12,'#555b60'),
 note('31.83145',1750,656.7,12,'#555b60'),
 note('-31.8315',1750,749,12,'#555b60'),
 note(lastPrice.toFixed(2),1750.5,307.5,12.5,'#ffffff',{font:{family:'Roboto',size:12.5,color:'#ffffff',weight:600}}),
 ...levels.map((v,k)=>Object.assign(note(v.toFixed(2),1694,tagYs[k],11.5,'#ffffff'),{width:tagWidth,height:tagHeight,align:'center',bgcolor:'#1a237e'}))
];

const grid='#f2f2f2';
const baseY={side:'right',showgrid:true,gridcolor:grid,gridwidth:1,zeroline:false,showline:false,ticks:'',tickfont:{family:'Roboto',size:12,color:'#555b60'},fixedrange:true,anchor:'x',ticklabelposition:'outside'};
const layout={
 width:W,height:H,autosize:false,margin:{l:mL,r:mR,t:0,b:H-plotBottom,pad:0},
 paper_bgcolor:'#ffffff',plot_bgcolor:'#ffffff',showlegend:false,font:{family:'Roboto'},barmode:'overlay',
 xaxis:{range:[barAt(mL),barAt(W-mR)],tickmode:'array',tickvals:timeTickBars,ticktext:timeLabels,showgrid:true,gridcolor:grid,gridwidth:1,zeroline:false,showline:false,ticks:'',ticklen:0,
  tickfont:{family:'Roboto',size:12,color:'#555b60'},rangeslider:{visible:false},anchor:'y3',ticklabelshift:15,ticklabelstandoff:2,fixedrange:true},
 yaxis:Object.assign({},baseY,{domain:[py(521),py(18)],range:[3582.32,3774.58],tickmode:'array',tickvals:priceTicks,ticktext:priceTickText}),
 yaxis2:Object.assign({},baseY,{domain:[py(649),py(521)],range:[0,100],tickmode:'array',tickvals:[30,70],ticktext:['30.0','70.0']}),
 yaxis3:Object.assign({},baseY,{domain:[0,py(649)],range:[-31.83145,31.83145],tickmode:'array',tickvals:[-31.83145,-10.61048,10.61048,31.83145],ticktext:['','-10.6105','10.61048','']}),
 shapes,annotations
};
Plotly.newPlot('c',traces,layout,{displayModeBar:false,staticPlot:true});
</script></body></html>
